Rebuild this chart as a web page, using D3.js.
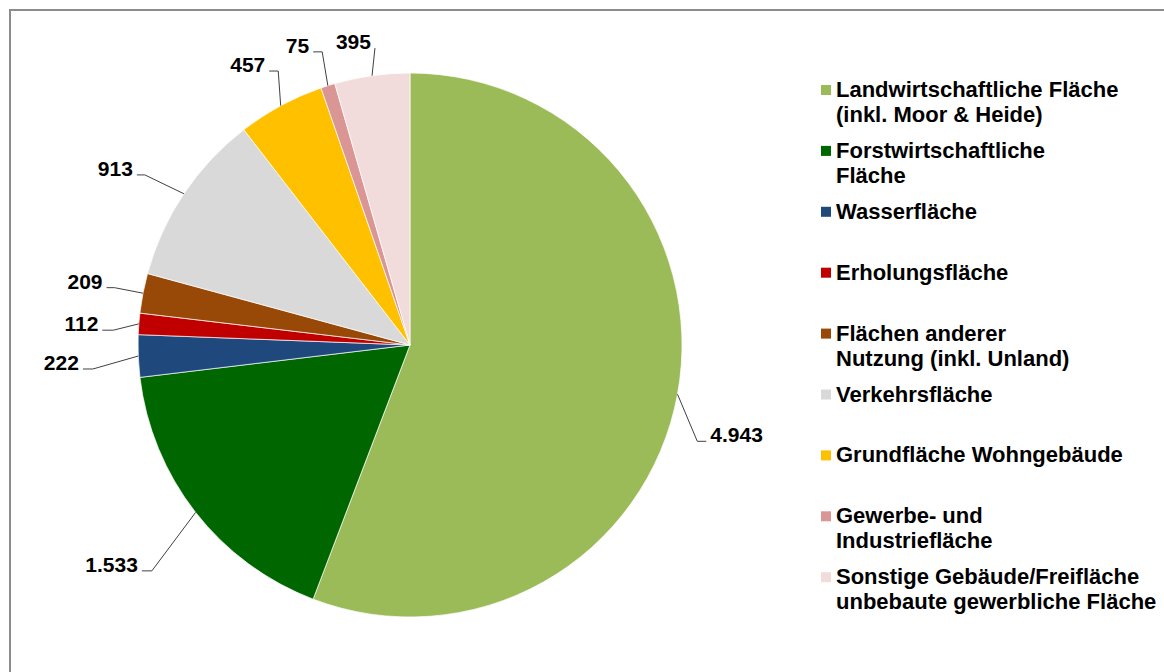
<!DOCTYPE html>
<html>
<head>
<meta charset="utf-8">
<script src="https://cdn.jsdelivr.net/npm/d3@7"></script>
<style>
  body { margin: 0; background: #fff; }
  text { font-family: "Liberation Sans", Arial, sans-serif; font-weight: bold; fill: #000; }
</style>
</head>
<body>
<div id="chart"></div>
<script>
// Flächennutzung – Kategorien (Zeilenumbruch wie in der Legende)
const categories = [
  "Landwirtschaftliche Fläche\n(inkl. Moor & Heide)",
  "Forstwirtschaftliche\nFläche",
  "Wasserfläche",
  "Erholungsfläche",
  "Flächen anderer\nNutzung (inkl. Unland)",
  "Verkehrsfläche",
  "Grundfläche Wohngebäude",
  "Gewerbe- und\nIndustriefläche",
  "Sonstige Gebäude/Freifläche\nunbebaute gewerbliche Fläche"
];
const values = [4943, 1533, 222, 112, 209, 913, 457, 75, 395];
const colors = ["#9BBB59", "#006600", "#1F497D", "#C00000", "#984807",
                "#D9D9D9", "#FFC000", "#D99694", "#F2DCDB"];

// Beschriftungs-Layout: Winkelverschiebung (Grad), Abstand vom Rand, Länge des waagrechten Strichs
const labelLayout = [
  { da: 8.1,  dr: 31, h: 9 },
  { da: -3.2, dr: 71, h: 10 },
  { da: -2,   dr: 46, h: 10 },
  { da: -1.6, dr: 25, h: 11 },
  { da: 0,    dr: 29, h: 8 },
  { da: -1.1, dr: 43, h: 8 },
  { da: 2.7,  dr: 32, h: 9 },
  { da: 0.9,  dr: 34, h: 9 },
  { da: 1.3,  dr: 27, h: 0 }
];

const W = 1164, H = 672;
const cx = 410, cy = 345, r = 272;

const de = d3.formatLocale({ decimal: ",", thousands: ".", grouping: [3], currency: ["", "€"] });
const fmt = de.format(",");

const svg = d3.select("#chart").append("svg")
    .attr("width", W)
    .attr("height", H);

// Rahmen (läuft rechts und unten aus dem Bild)
svg.append("rect")
    .attr("x", 10).attr("y", 10)
    .attr("width", W + 20).attr("height", H + 20)
    .attr("fill", "none")
    .attr("stroke", "#8c8c8c")
    .attr("stroke-width", 2);

const data = values.map((v, i) => ({ name: categories[i], value: v, color: colors[i], lay: labelLayout[i] }));

const pie = d3.pie().value(d => d.value).sort(null);
const arc = d3.arc().innerRadius(0).outerRadius(r);
const arcs = pie(data);

const g = svg.append("g").attr("transform", `translate(${cx},${cy})`);

g.selectAll("path.slice")
  .data(arcs)
  .enter().append("path")
    .attr("class", "slice")
    .attr("d", arc)
    .attr("fill", d => d.data.color)
    .attr("stroke", "#fff")
    .attr("stroke-width", 0.7);

// Führungslinien + Werte
const polar = (a, rad) => [Math.sin(a) * rad, -Math.cos(a) * rad];

arcs.forEach(d => {
  const mid = (d.startAngle + d.endAngle) / 2;
  const lay = d.data.lay;
  const p0 = polar(mid, r);
  const p1 = polar(mid + lay.da * Math.PI / 180, r + lay.dr);
  const right = p1[0] > 0;
  const p2 = [p1[0] + (right ? lay.h : -lay.h), p1[1]];

  g.append("polyline")
    .attr("points", [p0, p1, p2].map(p => p.join(",")).join(" "))
    .attr("fill", "none")
    .attr("stroke", "#404040")
    .attr("stroke-width", 1);

  g.append("text")
    .attr("x", p2[0] + (right ? 4 : -4))
    .attr("y", p2[1] + 1)
    .attr("text-anchor", right ? "start" : "end")
    .style("font-size", "21px")
    .text(fmt(d.data.value));
});

// Legende
const lg = svg.append("g").attr("transform", "translate(821,90)");
const step = 60.9, lineH = 25;

data.forEach((d, i) => {
  const row = lg.append("g").attr("transform", `translate(0,${i * step})`);
  row.append("rect")
    .attr("x", 0).attr("y", -5)
    .attr("width", 10).attr("height", 10)
    .attr("fill", d.color);
  const t = row.append("text")
    .attr("x", 15)
    .attr("y", 7)
    .style("font-size", "22px");
  d.name.split("\n").forEach((line, j) => {
    t.append("tspan")
      .attr("x", 15)
      .attr("dy", j === 0 ? 0 : lineH)
      .text(line);
  });
});
</script>
</body>
</html>
